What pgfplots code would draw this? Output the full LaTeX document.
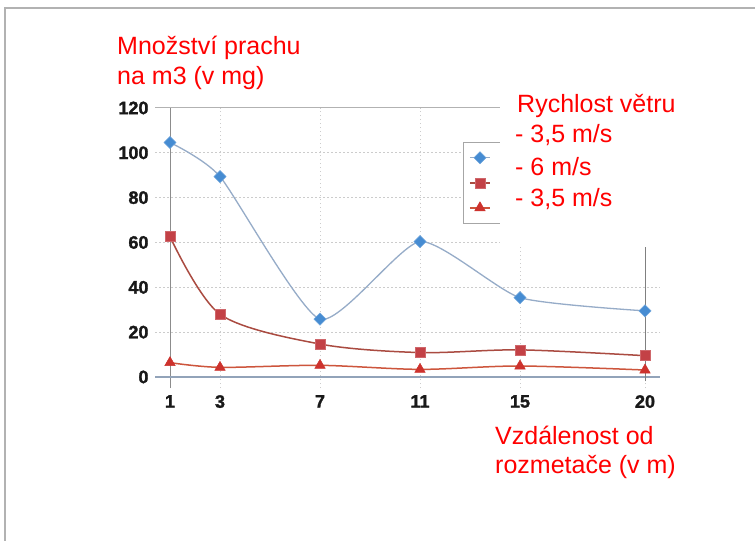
\documentclass[border=0pt]{standalone}
\usepackage{fontspec}
\setmainfont{Liberation Sans}
\newfontfamily\tickfont[FakeBold=1.6]{Liberation Sans Bold}
\usepackage{pgfplots}
\pgfplotsset{compat=1.18}
\definecolor{bl}{RGB}{70,140,210}
\definecolor{blline}{RGB}{150,172,200}
\definecolor{rd}{RGB}{195,65,70}
\definecolor{rdline}{RGB}{170,75,65}
\definecolor{tri}{RGB}{205,50,45}
\definecolor{triline}{RGB}{205,85,60}
\definecolor{redt}{RGB}{255,0,0}
\begin{document}
\begin{tikzpicture}[x=1bp,y=1bp]
\useasboundingbox (0,0) rectangle (755,541);
\fill[white] (0,0) rectangle (755,541);
\draw[black!30, line width=2bp] (4.5,0) -- (4.5,532.5) -- (755,532.5);
\begin{axis}[
  at={(155bp,152.8bp)}, anchor=south west, scale only axis,
  width=505bp, height=280.2bp,
  xmin=0.4, xmax=20.6, ymin=-5, ymax=120,
  axis line style={draw=none},
  xtick={1,3,7,11,15,20}, ytick={0,20,...,120},
  major tick length=0pt,
  grid=major, grid style={dash pattern=on 1.5bp off 2.5bp, black!20, line width=1bp},
  tick label style={font=\fontsize{18bp}{20bp}\tickfont, text=black!90},
  /pgf/number format/assume math mode=true,
  xticklabel style={yshift=-3.5bp},
  yticklabel style={xshift=-3bp},
  clip=false,
  legend image code/.code={\draw[mark repeat=2,mark phase=2] plot coordinates {(0bp,0bp)(10bp,0bp)(20bp,0bp)};},
  legend style={at={(axis cs:12.72,104.8)}, anchor=north west, draw=black!35,
    inner xsep=6bp, inner ysep=3bp, row sep=0pt,
    nodes={inner sep=0pt, text height=12.5bp, text depth=12.5bp}},
]
\draw[black!45, line width=1bp] (axis cs:1,-5) -- (axis cs:1,120);
\draw[black!30, line width=1bp] (axis cs:0.4,120) -- (axis cs:20.6,120);
\draw[blline!80!gray, line width=1.3bp] (axis cs:0.4,0) -- (axis cs:20.6,0);
\draw[black!50, line width=1bp] (axis cs:20,-2) -- (axis cs:20,58);
\addplot[blline, line width=1.3bp, smooth, tension=0.35, mark=square*, mark size=4.3bp,
  mark options={rotate=45, fill=bl, draw=bl!80!white, line width=0.5bp}]
  coordinates {(1,104.6)(3,89.4)(7,25.8)(11,60.4)(15,35.4)(20,29.5)};
\addplot[rdline, line width=1.5bp, smooth, tension=0.5, mark=square*, mark size=5bp,
  mark options={fill=rd, draw=rd!80!white, line width=0.5bp}]
  coordinates {(1,62.6)(3,28)(7,14.7)(11,10.9)(15,12.1)(20,9.5)};
\addplot[triline, line width=1.5bp, smooth, tension=0.5, mark=triangle*, mark size=6bp,
  mark options={fill=tri, draw=tri, line width=0.5bp}]
  coordinates {(1,6.4)(3,4.3)(7,5.2)(11,3.4)(15,4.9)(20,3.1)};
\legend{\hphantom{MMMMMMM},\hphantom{MMMMMMM},\hphantom{MMMMMMM}}
\end{axis}
\fill[white] (500,297) rectangle (745,451);
\begin{scope}[every node/.style={anchor=base west, inner sep=0pt, text=redt,
    font=\fontsize{25bp}{30bp}\selectfont}]
\node at (117,486) {Množství prachu};
\node at (117,456) {na m3 (v mg)};
\node at (517,428) {Rychlost větru};
\node at (515,398) {- 3,5 m/s};
\node at (515,365) {- 6 m/s};
\node at (515,334) {- 3,5 m/s};
\node at (495,96) {Vzdálenost od};
\node at (495,67) {rozmetače (v m)};
\end{scope}
\end{tikzpicture}
\end{document}
